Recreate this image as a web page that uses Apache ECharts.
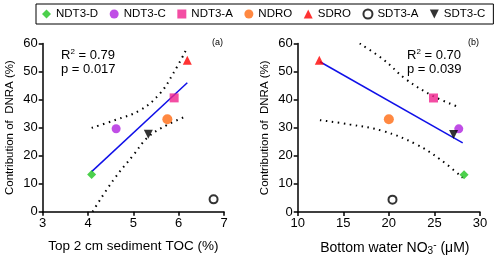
<!DOCTYPE html>
<html><head><meta charset="utf-8">
<script src="https://cdn.jsdelivr.net/npm/echarts@6/dist/echarts.min.js"></script>
<style>html,body{margin:0;padding:0;background:#fff}#c{width:500px;height:261px}</style>
</head><body><div id="c"></div>
<script>
const names = ['NDT3-D','NDT3-C','NDT3-A','NDRO','SDRO','SDT3-A','SDT3-C'];
const toc   = [4.08, 4.62, 5.90, 5.75, 6.19, 6.77, 5.33];
const no3   = [28.25, 27.67, 24.9, 20.0, 12.37, 20.4, 27.1];
const dnra  = [13.3, 29.6, 40.6, 33.0, 54.0, 4.4, 27.6];
const fitA   = [[4.08, 14.3], [6.19, 46.0]];
const upperA = [[4.08, 29.9], [4.6, 32.7], [5.15, 36.2], [5.59, 42.2], [5.88, 49.3], [6.16, 57.6]];
const lowerA = [[4.10, 0.0], [4.56, 11.3], [5.0, 20.2], [5.33, 26.7], [5.74, 30.9], [6.10, 33.6]];
const fitB   = [[12.44, 53.5], [28.1, 24.6]];
const upperB = [[16.8, 60.0], [19.4, 54.3], [21.9, 47.2], [24.85, 41.3], [27.8, 37.2]];
const lowerB = [[12.44, 32.7], [15.7, 31.2], [19.4, 28.8], [23.0, 24.1], [25.6, 18.8], [28.1, 12.2]];
const xTicksA = [3, 4, 5, 6, 7];
const xTicksB = [10, 15, 20, 25, 30];
const yTicks  = [0, 10, 20, 30, 40, 50, 60];

const colors = ['#1fc41f', '#b022e0', '#f0208c', '#ff6a12', '#ff0000', '#000000', '#000000'];
const symbols = ['diamond', 'circle', 'rect', 'circle', 'triangle', 'emptyCircle', 'path://M0,0 L10,0 L5,10 Z'];
const sizes = [9, 9, 9, 10, 9, 8, 9];
const FONT = 'Liberation Sans, Arial, sans-serif';

function axisCommon() {
  return {
    axisLine: {show: true, lineStyle: {color: '#000', width: 1.5}},
    axisTick: {show: true, inside: false, length: 4, lineStyle: {color: '#000', width: 1.5}},
    axisLabel: {color: '#000', fontSize: 13, fontFamily: FONT, margin: 5},
    splitLine: {show: false}
  };
}

const series = [];
names.forEach((n, i) => {
  const isOpen = n === 'SDT3-A';
  const style = isOpen ? {color: '#000', borderWidth: 2.2} : {color: colors[i]};
  [0, 1].forEach(k => {
    series.push({
      name: n, type: 'scatter', xAxisIndex: k, yAxisIndex: k,
      symbol: symbols[i], symbolSize: sizes[i],
      itemStyle: style, z: 5,
      data: [[k === 0 ? toc[i] : no3[i], dnra[i]]]
    });
  });
});
function lineS(data, k, dotted) {
  return {
    type: 'line', xAxisIndex: k, yAxisIndex: k, data: data, showSymbol: false, symbol: 'none',
    smooth: dotted ? 0.4 : false, silent: true, z: 3,
    lineStyle: dotted ? {color: '#000', width: 2, type: [1.5, 4.5]} : {color: '#1010e8', width: 1.5}
  };
}
series.push(lineS(fitA, 0, false), lineS(upperA, 0, true), lineS(lowerA, 0, true));
series.push(lineS(fitB, 1, false), lineS(upperB, 1, true), lineS(lowerB, 1, true));

const yName = 'Contribution of  DNRA (%)';
const yNameStyle = {fontSize: 11.5, color: '#000', fontFamily: FONT, width: 220, overflow: 'none'};
const chart = echarts.init(document.getElementById('c'), null, {renderer: 'canvas'});
chart.setOption({
  animation: false,
  textStyle: {fontFamily: FONT},
  legend: {
    data: names.map((n, i) => ({name: n, icon: symbols[i]})),
    left: 36, top: 4, width: 470,
    borderColor: '#000', borderWidth: 1, padding: [4, 8, 4, 6],
    itemWidth: 9, itemHeight: 9, itemGap: 11.5,
    textStyle: {fontSize: 11.5, color: '#000', fontFamily: FONT}
  },
  grid: [
    {left: 42.7, top: 43.5, width: 181.3, height: 168.2},
    {left: 297.7, top: 43.5, width: 182.3, height: 168.5}
  ],
  xAxis: [
    Object.assign(axisCommon(), {gridIndex: 0, type: 'value', min: xTicksA[0], max: xTicksA[xTicksA.length - 1], interval: 1,
      name: 'Top 2 cm sediment TOC (%)', nameLocation: 'middle', nameGap: 28,
      nameTextStyle: {fontSize: 13.5, color: '#000', fontFamily: FONT}}),
    Object.assign(axisCommon(), {gridIndex: 1, type: 'value', min: xTicksB[0], max: xTicksB[xTicksB.length - 1], interval: 5,
      name: '{n|Bottom water NO}{sub|3}{sup|-}{n| (μM)}', nameLocation: 'middle', nameGap: 28,
      nameTextStyle: {fontSize: 14, color: '#000', fontFamily: FONT, padding: [0, 0, 0, 12],
        rich: {n: {fontSize: 14, fontFamily: FONT, color: '#000'},
               sub: {fontSize: 10, fontFamily: FONT, color: '#000', verticalAlign: 'bottom', padding: [6, 0, 0, 0]},
               sup: {fontSize: 10, fontFamily: FONT, color: '#000', verticalAlign: 'top', padding: [0, 0, 6, 0]}}}})
  ],
  yAxis: [
    Object.assign(axisCommon(), {gridIndex: 0, type: 'value', min: yTicks[0], max: yTicks[yTicks.length - 1], interval: 10,
      name: yName, nameLocation: 'middle', nameGap: 27, nameTextStyle: yNameStyle}),
    Object.assign(axisCommon(), {gridIndex: 1, type: 'value', min: yTicks[0], max: yTicks[yTicks.length - 1], interval: 10,
      name: yName, nameLocation: 'middle', nameGap: 27, nameTextStyle: yNameStyle})
  ],
  graphic: [
    {type: 'text', left: 61, top: 48, style: {text: '{n|R}{s|2}{n| = 0.79}', rich: {n: {fontSize: 13, fontFamily: FONT, fill: '#000'}, s: {fontSize: 8, fontFamily: FONT, fill: '#000', verticalAlign: 'top', padding: [0, 0, 7, 0]}}}},
    {type: 'text', left: 61, top: 63, style: {text: 'p = 0.017', fontSize: 13, fontFamily: FONT, fill: '#000'}},
    {type: 'text', left: 212, top: 38, style: {text: '(a)', fontSize: 9, fontFamily: FONT, fill: '#000'}},
    {type: 'text', left: 407, top: 48, style: {text: '{n|R}{s|2}{n| = 0.70}', rich: {n: {fontSize: 13, fontFamily: FONT, fill: '#000'}, s: {fontSize: 8, fontFamily: FONT, fill: '#000', verticalAlign: 'top', padding: [0, 0, 7, 0]}}}},
    {type: 'text', left: 407, top: 63, style: {text: 'p = 0.039', fontSize: 13, fontFamily: FONT, fill: '#000'}},
    {type: 'text', left: 468, top: 38, style: {text: '(b)', fontSize: 9, fontFamily: FONT, fill: '#000'}}
  ],
  series: series
});
</script></body></html>
